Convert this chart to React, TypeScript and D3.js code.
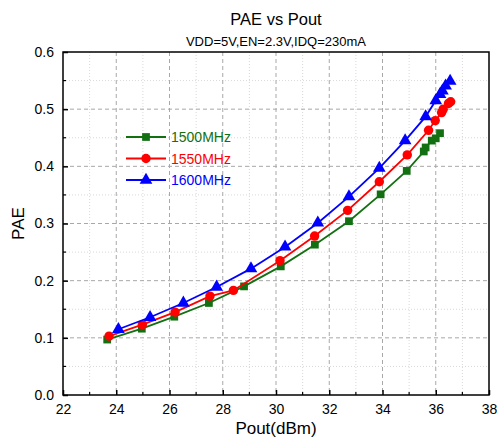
import React, { useEffect, useRef } from 'react';
import * as d3 from 'd3';

// Pout (dBm) / PAE
const pout1500 = [23.66, 24.96, 26.18, 27.48, 28.80, 30.18, 31.46, 32.74, 33.93, 34.91, 35.55, 35.62, 35.85, 36.0, 36.16];
const pae1500 = [0.097, 0.116, 0.137, 0.161, 0.190, 0.225, 0.263, 0.304, 0.351, 0.392, 0.426, 0.433, 0.445, 0.449, 0.458];

const pout1550 = [23.73, 24.98, 26.21, 27.52, 28.40, 30.15, 31.45, 32.69, 33.88, 34.93, 35.73, 35.98, 36.22, 36.28, 36.48, 36.56];
const pae1550 = [0.103, 0.123, 0.145, 0.173, 0.183, 0.235, 0.278, 0.323, 0.373, 0.420, 0.463, 0.480, 0.494, 0.500, 0.510, 0.513];

const pout1600 = [24.08, 25.27, 26.52, 27.77, 29.06, 30.34, 31.57, 32.74, 33.88, 34.85, 35.62, 36.0, 36.16, 36.25, 36.37, 36.54];
const pae1600 = [0.115, 0.136, 0.161, 0.189, 0.221, 0.259, 0.301, 0.347, 0.397, 0.445, 0.487, 0.515, 0.526, 0.532, 0.541, 0.549];

const seriesNames = ['1500MHz', '1550MHz', '1600MHz'];
const seriesColors = ['#127012', '#ff0000', '#0000ff'];
const seriesShapes = [d3.symbolSquare, d3.symbolCircle, d3.symbolTriangle];

const xTicks = [22, 24, 26, 28, 30, 32, 34, 36, 38];
const yTicks = [0.0, 0.1, 0.2, 0.3, 0.4, 0.5, 0.6];

const App: React.FC = () => {
    const svgRef = useRef<SVGSVGElement>(null);

    useEffect(() => {
        d3.select(svgRef.current).selectAll('*').remove();

        const width = 499;
        const height = 437;
        const margin = { top: 52, right: 10, bottom: 42, left: 63 };
        const innerW = width - margin.left - margin.right;
        const innerH = height - margin.top - margin.bottom;
        const font = 'Arial, "Liberation Sans", sans-serif';

        const svg = d3.select(svgRef.current)
            .attr('width', width)
            .attr('height', height)
            .style('background', '#fff');

        const g = svg.append('g').attr('transform', `translate(${margin.left},${margin.top})`);

        const x = d3.scaleLinear().domain([22, 38]).range([0, innerW]);
        const y = d3.scaleLinear().domain([0, 0.6]).range([innerH, 0]);

        // minor grid (dotted)
        const xMinor = d3.range(23, 38, 2);
        const yMinor = d3.range(0.05, 0.6, 0.1);
        g.append('g').selectAll('line').data(xMinor).enter().append('line')
            .attr('x1', d => x(d)).attr('x2', d => x(d)).attr('y1', 0).attr('y2', innerH)
            .attr('stroke', '#d8d8d8').attr('stroke-dasharray', '1,2');
        g.append('g').selectAll('line').data(yMinor).enter().append('line')
            .attr('y1', d => y(d)).attr('y2', d => y(d)).attr('x1', 0).attr('x2', innerW)
            .attr('stroke', '#d8d8d8').attr('stroke-dasharray', '1,2');

        // major grid (dashed)
        g.append('g').selectAll('line').data(xTicks.slice(1, -1)).enter().append('line')
            .attr('x1', d => x(d)).attr('x2', d => x(d)).attr('y1', 0).attr('y2', innerH)
            .attr('stroke', '#a8a8a8').attr('stroke-dasharray', '4,3');
        g.append('g').selectAll('line').data(yTicks.slice(1, -1)).enter().append('line')
            .attr('y1', d => y(d)).attr('y2', d => y(d)).attr('x1', 0).attr('x2', innerW)
            .attr('stroke', '#a8a8a8').attr('stroke-dasharray', '4,3');

        // frame
        g.append('rect').attr('width', innerW).attr('height', innerH)
            .attr('fill', 'none').attr('stroke', '#000').attr('stroke-width', 1.5);

        // bottom axis, ticks inward
        const xAxis = g.append('g').attr('transform', `translate(0,${innerH})`)
            .call(d3.axisBottom(x).tickValues(xTicks).tickSizeInner(-5).tickSizeOuter(0).tickPadding(9).tickFormat(d3.format('d')));
        xAxis.select('.domain').remove();
        xAxis.selectAll('text').style('font-family', font).style('font-size', '14px').attr('fill', '#000');
        xAxis.selectAll('line').attr('stroke-width', 1.5);
        g.append('g').selectAll('line').data(xMinor).enter().append('line')
            .attr('x1', d => x(d)).attr('x2', d => x(d)).attr('y1', innerH).attr('y2', innerH - 3)
            .attr('stroke', '#000').attr('stroke-width', 1.2);

        // left axis, ticks inward
        const yAxis = g.append('g')
            .call(d3.axisLeft(y).tickValues(yTicks).tickSizeInner(-5).tickSizeOuter(0).tickPadding(9).tickFormat(d3.format('.1f')));
        yAxis.select('.domain').remove();
        yAxis.selectAll('text').style('font-family', font).style('font-size', '14px').attr('fill', '#000');
        yAxis.selectAll('line').attr('stroke-width', 1.5);
        g.append('g').selectAll('line').data(yMinor).enter().append('line')
            .attr('y1', d => y(d)).attr('y2', d => y(d)).attr('x1', 0).attr('x2', 3)
            .attr('stroke', '#000').attr('stroke-width', 1.2);

        // series
        const allX = [pout1500, pout1550, pout1600];
        const allY = [pae1500, pae1550, pae1600];
        const symSizes = [60, 70, 70];
        const line = d3.line<[number, number]>().x(d => x(d[0])).y(d => y(d[1]));

        allX.forEach((xs, i) => {
            const pts: [number, number][] = xs.map((v, j) => [v, allY[i][j]]);
            g.append('path').datum(pts).attr('d', line)
                .attr('fill', 'none').attr('stroke', seriesColors[i]).attr('stroke-width', 1.8);
            g.append('g').selectAll('path').data(pts).enter().append('path')
                .attr('transform', d => `translate(${x(d[0])},${y(d[1])})`)
                .attr('d', d3.symbol().type(seriesShapes[i]).size(symSizes[i])())
                .attr('fill', seriesColors[i]);
        });

        // legend
        const legend = g.append('g').attr('transform', `translate(${126 - margin.left},${137 - margin.top})`);
        seriesNames.forEach((name, i) => {
            const row = legend.append('g').attr('transform', `translate(0,${i * 21.5})`);
            row.append('line').attr('x1', 0).attr('x2', 40).attr('y1', 0).attr('y2', 0)
                .attr('stroke', seriesColors[i]).attr('stroke-width', 1.8);
            row.append('path').attr('transform', 'translate(20,0)')
                .attr('d', d3.symbol().type(seriesShapes[i]).size(symSizes[i])())
                .attr('fill', seriesColors[i]);
            row.append('text').attr('x', 45).attr('y', 5)
                .style('font-family', font).style('font-size', '14px')
                .attr('fill', seriesColors[i]).text(name);
        });

        // titles
        svg.append('text').attr('x', margin.left + innerW / 2).attr('y', 25)
            .attr('text-anchor', 'middle').style('font-family', font).style('font-size', '16.5px')
            .text('PAE vs Pout');
        svg.append('text').attr('x', margin.left + innerW / 2).attr('y', 46)
            .attr('text-anchor', 'middle').style('font-family', font).style('font-size', '13px')
            .text('VDD=5V,EN=2.3V,IDQ=230mA');
        svg.append('text').attr('x', margin.left + innerW / 2).attr('y', 434)
            .attr('text-anchor', 'middle').style('font-family', font).style('font-size', '17px')
            .text('Pout(dBm)');
        svg.append('text').attr('transform', `translate(24,${margin.top + innerH / 2}) rotate(-90)`)
            .attr('text-anchor', 'middle').style('font-family', font).style('font-size', '17px')
            .text('PAE');
    }, []);

    return <svg ref={svgRef} style={{ position: 'absolute', left: 0, top: 0 }}></svg>;
};

export default App;
